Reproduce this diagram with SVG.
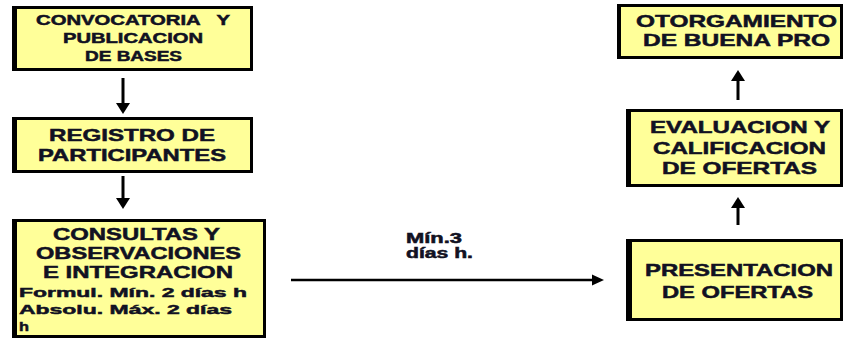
<svg xmlns="http://www.w3.org/2000/svg" width="845" height="340" viewBox="0 0 845 340">
<style>
.bd{fill:#000}
.fl{fill:#FFFF99}
.t{font-family:"Liberation Sans",Arial,sans-serif;font-weight:bold;fill:#111122;stroke:#111122;stroke-width:0.5}
.t14{font-size:14px}
.t16{font-size:16.5px}
.t13{font-size:13.5px}
.ln{stroke:#000;stroke-width:3;fill:none}
.hd{fill:#000}
</style>
<rect width="845" height="340" fill="#fff"/>
<g id="connectors">
<line class="ln" x1="123" y1="78" x2="123" y2="104"/>
<polygon class="hd" points="116,103 130,103 123,114"/>
<line class="ln" x1="123" y1="176" x2="123" y2="199"/>
<polygon class="hd" points="116,198 130,198 123,209"/>
<line class="ln" x1="738" y1="100" x2="738" y2="80"/>
<polygon class="hd" points="731,81 745,81 738,70"/>
<line class="ln" x1="738" y1="225" x2="738" y2="207"/>
<polygon class="hd" points="731,208 745,208 738,197"/>
<line class="ln" x1="291" y1="280" x2="594" y2="280" style="stroke-width:2.5"/>
<polygon class="hd" points="592,274.5 604,280 592,285.5"/>
<text class="t t14" x="406" y="243" textLength="56" lengthAdjust="spacingAndGlyphs">Mín.3</text>
<text class="t t14" x="406" y="258" textLength="67" lengthAdjust="spacingAndGlyphs">días h.</text>
</g>
<g id="n1">
<rect class="bd" x="12" y="6" width="241" height="65"/>
<rect class="fl" x="17" y="9" width="233" height="59"/>
<text class="t t14" x="36" y="25" textLength="194" lengthAdjust="spacingAndGlyphs" xml:space="preserve">CONVOCATORIA   Y</text>
<text class="t t14" x="63" y="43" textLength="140" lengthAdjust="spacingAndGlyphs">PUBLICACION</text>
<text class="t t14" x="85" y="61" textLength="97" lengthAdjust="spacingAndGlyphs">DE BASES</text>
</g>
<g id="n2">
<rect class="bd" x="12" y="117" width="241" height="56"/>
<rect class="fl" x="17" y="120" width="233" height="50"/>
<text class="t t16" x="49" y="141" textLength="166" lengthAdjust="spacingAndGlyphs">REGISTRO DE</text>
<text class="t t16" x="38" y="161" textLength="188" lengthAdjust="spacingAndGlyphs">PARTICIPANTES</text>
</g>
<g id="n3">
<rect class="bd" x="12" y="219" width="254" height="119"/>
<rect class="fl" x="17" y="222" width="246" height="113"/>
<text class="t t16" x="53" y="240" textLength="167" lengthAdjust="spacingAndGlyphs">CONSULTAS Y</text>
<text class="t t16" x="36" y="259" textLength="205" lengthAdjust="spacingAndGlyphs">OBSERVACIONES</text>
<text class="t t16" x="43" y="278" textLength="190" lengthAdjust="spacingAndGlyphs">E INTEGRACION</text>
<text class="t t13" x="19" y="297" textLength="228" lengthAdjust="spacingAndGlyphs">Formul. Mín. 2 días h</text>
<text class="t t13" x="19" y="314" textLength="213" lengthAdjust="spacingAndGlyphs">Absolu. Máx. 2 días</text>
<text class="t t13" x="19" y="331" textLength="10" lengthAdjust="spacingAndGlyphs">h</text>
</g>
<g id="n4">
<rect class="bd" x="617" y="4" width="226" height="55"/>
<rect class="fl" x="621" y="7" width="219" height="49"/>
<text class="t t16" x="636" y="27" textLength="201" lengthAdjust="spacingAndGlyphs">OTORGAMIENTO</text>
<text class="t t16" x="643" y="46" textLength="187" lengthAdjust="spacingAndGlyphs">DE BUENA PRO</text>
</g>
<g id="n5">
<rect class="bd" x="626" y="109" width="217" height="78"/>
<rect class="fl" x="631" y="112" width="209" height="72"/>
<text class="t t16" x="650" y="133" textLength="180" lengthAdjust="spacingAndGlyphs">EVALUACION Y</text>
<text class="t t16" x="653" y="154" textLength="173" lengthAdjust="spacingAndGlyphs">CALIFICACION</text>
<text class="t t16" x="662" y="174" textLength="155" lengthAdjust="spacingAndGlyphs">DE OFERTAS</text>
</g>
<g id="n6">
<rect class="bd" x="626" y="239" width="217" height="82"/>
<rect class="fl" x="632" y="242" width="208" height="76"/>
<text class="t t16" x="645" y="276" textLength="188" lengthAdjust="spacingAndGlyphs">PRESENTACION</text>
<text class="t t16" x="662" y="298" textLength="151" lengthAdjust="spacingAndGlyphs">DE OFERTAS</text>
</g>
</svg>
